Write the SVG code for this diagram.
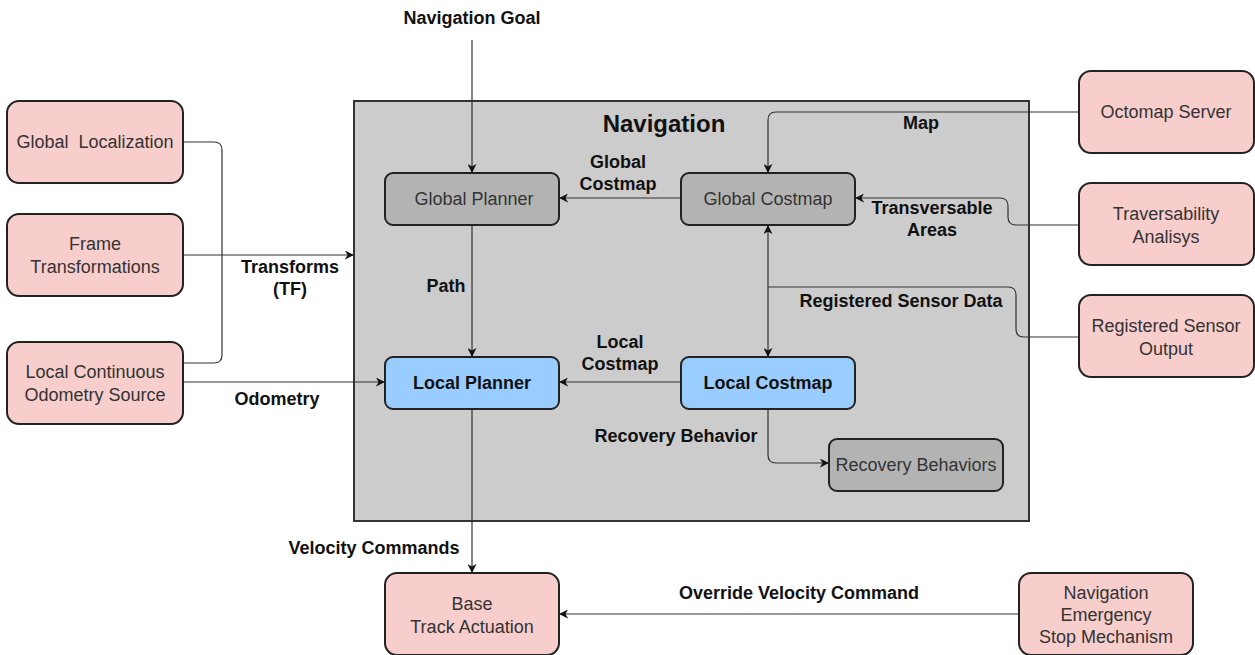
<svg xmlns="http://www.w3.org/2000/svg" width="1255" height="655" viewBox="0 0 1255 655">
<defs>
<marker id="arr" viewBox="0 0 10 10" refX="9" refY="5" markerWidth="9" markerHeight="9" orient="auto-start-reverse" markerUnits="userSpaceOnUse">
<path d="M0,0 L10,5 L0,10 L3,5 Z" fill="#111"/>
</marker>
<style>
.pink{fill:#f8cecc;stroke:#222;stroke-width:2}
.gray{fill:#b3b3b3;stroke:#222;stroke-width:2}
.blue{fill:#99ccff;stroke:#222;stroke-width:2}
.t{font-family:"Liberation Sans",Arial,sans-serif;font-size:18px;fill:#333;text-anchor:middle}
.tb{font-family:"Liberation Sans",Arial,sans-serif;font-size:18px;font-weight:bold;fill:#111;text-anchor:middle}
.lbl{font-family:"Liberation Sans",Arial,sans-serif;font-size:18px;font-weight:bold;fill:#111;text-anchor:middle}
.c{fill:none;stroke:#333;stroke-width:1.2}
</style>
</defs>
<rect width="1255" height="655" fill="#fff"/>
<g id="navigation">
<rect x="354" y="101" width="675" height="420" fill="#cccccc" stroke="#333" stroke-width="2"/>
<text x="664" y="132" font-family="Liberation Sans, Arial, sans-serif" font-size="24" font-weight="bold" fill="#111" text-anchor="middle">Navigation</text>
</g>
<g id="connectors">
<path class="c" d="M472,40 V172" marker-end="url(#arr)"/>
<path class="c" d="M681,198 H560" marker-end="url(#arr)"/>
<path class="c" d="M472,225 V356" marker-end="url(#arr)"/>
<path class="c" d="M681,382 H560" marker-end="url(#arr)"/>
<path class="c" d="M1079,112 H776 Q768,112 768,120 V172" marker-end="url(#arr)"/>
<path class="c" d="M1079,225 H1016 Q1008,225 1008,217 V206 Q1008,198 1000,198 H856" marker-end="url(#arr)"/>
<path class="c" d="M1079,337 H1024 Q1016,337 1016,329 V295 Q1016,287 1008,287 H768"/>
<path class="c" d="M768,226 V356" marker-start="url(#arr)" marker-end="url(#arr)"/>
<path class="c" d="M768,409 V455 Q768,463 776,463 H828" marker-end="url(#arr)"/>
<path class="c" d="M472,409 V572" marker-end="url(#arr)"/>
<path class="c" d="M1019,614 H560" marker-end="url(#arr)"/>
<path class="c" d="M183,255 H353" marker-end="url(#arr)"/>
<path class="c" d="M183,142 H214 Q222,142 222,150 V355 Q222,363 214,363 H183"/>
<path class="c" d="M183,382 H384" marker-end="url(#arr)"/>
<text class="lbl" x="472" y="24">Navigation Goal</text>
<text class="lbl" x="618" y="168">Global</text>
<text class="lbl" x="618" y="190">Costmap</text>
<text class="lbl" x="446" y="292">Path</text>
<text class="lbl" x="620" y="348">Local</text>
<text class="lbl" x="620" y="370">Costmap</text>
<text class="lbl" x="921" y="129">Map</text>
<text class="lbl" x="932" y="214">Transversable</text>
<text class="lbl" x="932" y="236">Areas</text>
<text class="lbl" x="901" y="307">Registered Sensor Data</text>
<text class="lbl" x="676" y="442">Recovery Behavior</text>
<text class="lbl" x="374" y="554">Velocity Commands</text>
<text class="lbl" x="799" y="599">Override Velocity Command</text>
<text class="lbl" x="290" y="273">Transforms</text>
<text class="lbl" x="290" y="295">(TF)</text>
<text class="lbl" x="277" y="405">Odometry</text>
</g>
<g id="global-planner">
<rect class="gray" x="385" y="173" width="174" height="52" rx="8"/>
<text class="t" x="474" y="205">Global Planner</text>
</g>
<g id="global-costmap">
<rect class="gray" x="681" y="173" width="174" height="52" rx="8"/>
<text class="t" x="768" y="205">Global Costmap</text>
</g>
<g id="local-planner">
<rect class="blue" x="385" y="357" width="174" height="52" rx="8"/>
<text class="tb" x="472" y="389">Local Planner</text>
</g>
<g id="local-costmap">
<rect class="blue" x="681" y="357" width="174" height="52" rx="8"/>
<text class="tb" x="768" y="389">Local Costmap</text>
</g>
<g id="recovery-behaviors">
<rect class="gray" x="829" y="439" width="174" height="52" rx="8"/>
<text class="t" x="916" y="471">Recovery Behaviors</text>
</g>
<g id="global-localization">
<rect class="pink" x="7" y="101" width="176" height="82" rx="12"/>
<text class="t" x="95" y="148" xml:space="preserve">Global  Localization</text>
</g>
<g id="frame-transformations">
<rect class="pink" x="7" y="214" width="176" height="82" rx="12"/>
<text class="t" x="95" y="250">Frame</text>
<text class="t" x="95" y="273">Transformations</text>
</g>
<g id="local-odometry">
<rect class="pink" x="7" y="342" width="176" height="82" rx="12"/>
<text class="t" x="95" y="378">Local Continuous</text>
<text class="t" x="95" y="401">Odometry Source</text>
</g>
<g id="octomap-server">
<rect class="pink" x="1079" y="71" width="175" height="82" rx="12"/>
<text class="t" x="1166" y="118">Octomap Server</text>
</g>
<g id="traversability">
<rect class="pink" x="1079" y="183" width="175" height="82" rx="12"/>
<text class="t" x="1166" y="220">Traversability</text>
<text class="t" x="1166" y="243">Analisys</text>
</g>
<g id="registered-sensor-output">
<rect class="pink" x="1079" y="295" width="175" height="82" rx="12"/>
<text class="t" x="1166" y="332">Registered Sensor</text>
<text class="t" x="1166" y="355">Output</text>
</g>
<g id="base-track-actuation">
<rect class="pink" x="385" y="573" width="174" height="82" rx="12"/>
<text class="t" x="472" y="610">Base</text>
<text class="t" x="472" y="633">Track Actuation</text>
</g>
<g id="emergency-stop">
<rect class="pink" x="1019" y="573" width="174" height="82" rx="12"/>
<text class="t" x="1106" y="599">Navigation</text>
<text class="t" x="1106" y="621">Emergency</text>
<text class="t" x="1106" y="643">Stop Mechanism</text>
</g>
</svg>
